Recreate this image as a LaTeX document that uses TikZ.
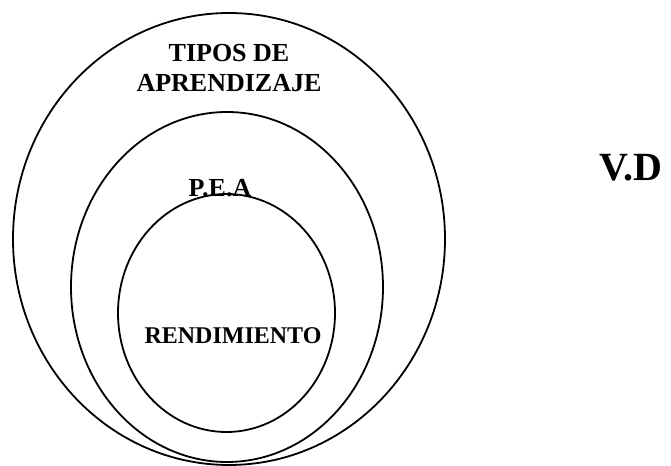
\documentclass[tikz,border=0pt]{standalone}
\usepackage{fontspec}
\setmainfont{Liberation Serif}
\begin{document}
\begin{tikzpicture}[x=0.5pt, y=0.5pt,
	ring/.style={line width=0.9pt, black},
	label/.style={font=\bfseries\fontsize{13}{15}\selectfont, align=center, inner sep=0pt}]
		\useasboundingbox (0,0) rectangle (671,466);
		\draw[ring] (229,227) ellipse [x radius=216, y radius=226];
		\draw[ring] (227,179) ellipse [x radius=156, y radius=175];
		\draw[ring] (226.5,153) ellipse [x radius=108.5, y radius=119];
		\node[label] (tipos) at (229,398) {TIPOS DE\\APRENDIZAJE};
		\node[label] (pea) at (220,278) {P.E.A};
		\node[label, font=\bfseries\fontsize{12}{14}\selectfont] (rend) at (233,130) {RENDIMIENTO};
		\node[label, font=\bfseries\fontsize{20}{24}\selectfont] (vd) at (631,298) {V.D};
\end{tikzpicture}
\end{document}
